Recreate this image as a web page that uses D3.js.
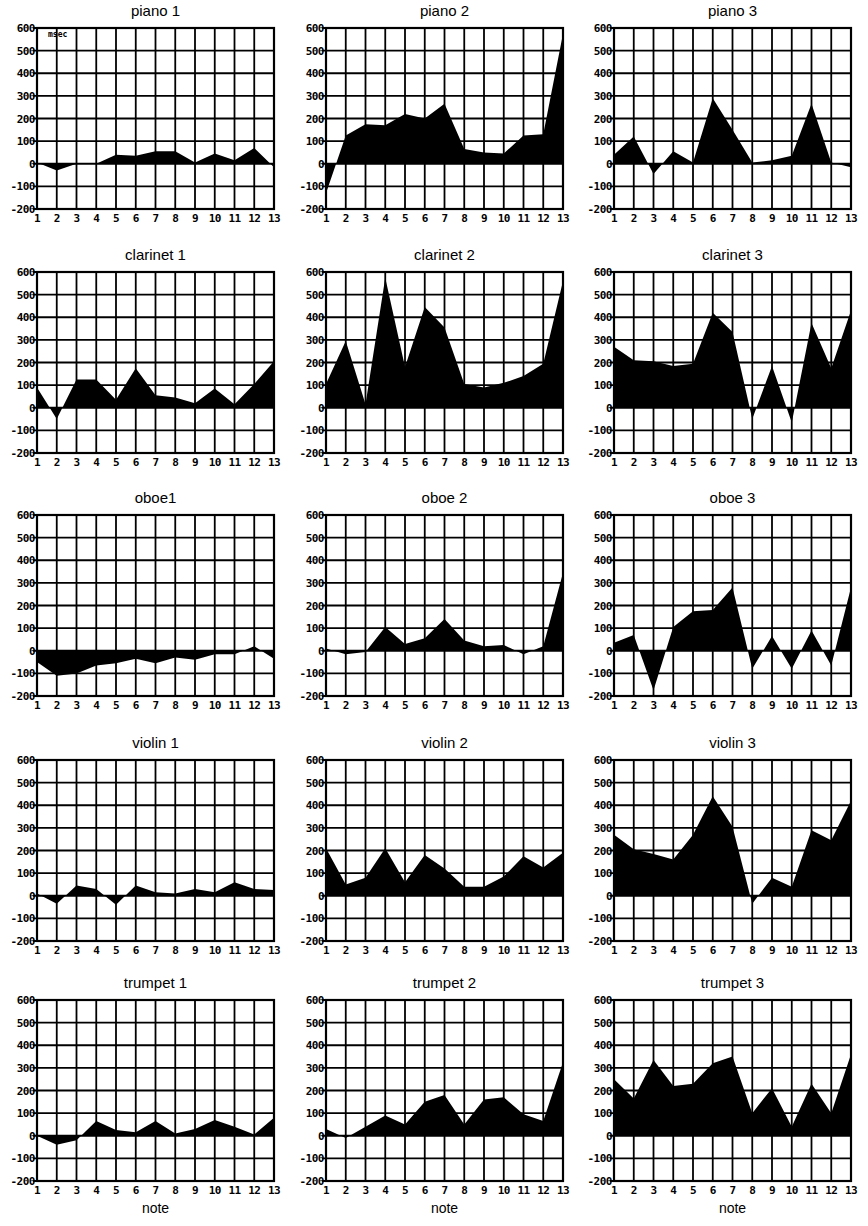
<!DOCTYPE html>
<html lang="en">
<head>
<meta charset="UTF-8">
<title>Note timing deviations</title>
<script src="https://d3js.org/d3.v7.min.js"></script>
<style>
  body { margin: 0; background: #fff; }
  svg { display: block; }
  .title { font-family: "Liberation Sans", Arial, sans-serif; font-size: 15px; }
  .tick { font-family: "DejaVu Sans Mono", monospace; font-weight: bold; font-size: 11px; }
</style>
</head>
<body>
<svg width="868" height="1226"></svg>
<script>
// note numbers and y tick values
const notes = [1, 2, 3, 4, 5, 6, 7, 8, 9, 10, 11, 12, 13];
const yTicks = [600, 500, 400, 300, 200, 100, 0, -100, -200];

// deviations in msec
const piano1   = [5, -30, 0, 0, 40, 35, 55, 55, 5, 45, 15, 70, -15];
const piano2   = [-130, 125, 175, 170, 220, 200, 265, 65, 50, 45, 125, 130, 575];
const piano3   = [40, 120, -45, 55, 5, 290, 150, 5, 15, 35, 265, 5, -15];
const clarinet1 = [90, -50, 125, 125, 35, 175, 55, 45, 20, 85, 15, 105, 205];
const clarinet2 = [105, 295, 15, 575, 180, 445, 355, 105, 90, 110, 140, 195, 560];
const clarinet3 = [270, 210, 205, 185, 195, 420, 335, -50, 185, -65, 375, 175, 430];
const oboe1    = [-50, -110, -100, -65, -55, -35, -55, -30, -40, -15, -15, 20, -35];
const oboe2    = [10, -15, -5, 105, 30, 55, 140, 45, 20, 25, -15, 20, 345];
const oboe3    = [35, 70, -175, 105, 175, 180, 280, -80, 65, -80, 90, -65, 280];
const violin1  = [10, -35, 45, 30, -40, 45, 15, 10, 30, 15, 60, 30, 25];
const violin2  = [210, 50, 80, 210, 60, 180, 120, 40, 40, 85, 175, 125, 190];
const violin3  = [270, 205, 185, 160, 270, 440, 305, -35, 80, 40, 290, 245, 420];
const trumpet1 = [0, -40, -20, 65, 25, 15, 65, 10, 30, 70, 40, 5, 80];
const trumpet2 = [30, -10, 40, 90, 50, 150, 180, 50, 160, 170, 95, 65, 325];
const trumpet3 = [250, 165, 335, 220, 230, 320, 350, 100, 210, 40, 230, 100, 360];

const titles = [
  "piano 1", "piano 2", "piano 3",
  "clarinet 1", "clarinet 2", "clarinet 3",
  "oboe1", "oboe 2", "oboe 3",
  "violin 1", "violin 2", "violin 3",
  "trumpet 1", "trumpet 2", "trumpet 3"
];
const series = [piano1, piano2, piano3, clarinet1, clarinet2, clarinet3,
                oboe1, oboe2, oboe3, violin1, violin2, violin3,
                trumpet1, trumpet2, trumpet3];

const svg = d3.select("svg");

const colLeft = [37, 326, 614];
const rowTop = [28, 272, 515, 760, 1000];
const w = 237, h = 181;

const x = d3.scaleLinear().domain([1, 13]).range([0, w]);
const y = d3.scaleLinear().domain([-200, 600]).range([h, 0]);

const area = d3.area()
  .x((d, i) => x(notes[i]))
  .y0(y(0))
  .y1(d => y(d));

series.forEach((vals, k) => {
  const col = k % 3, row = Math.floor(k / 3);
  const g = svg.append("g").attr("transform", `translate(${colLeft[col]},${rowTop[row]})`);

  g.append("text").attr("class", "title")
    .attr("x", w / 2).attr("y", -12)
    .attr("text-anchor", "middle")
    .text(titles[k]);

  // grid
  g.selectAll(".vg").data(notes).enter().append("line")
    .attr("x1", d => x(d)).attr("x2", d => x(d))
    .attr("y1", 0).attr("y2", h)
    .attr("stroke", "#000").attr("stroke-width", 1.8);
  g.selectAll(".hg").data(yTicks).enter().append("line")
    .attr("x1", -4).attr("x2", w)
    .attr("y1", d => y(d)).attr("y2", d => y(d))
    .attr("stroke", "#000").attr("stroke-width", 1.8);

  // filled deviation area
  g.append("path").datum(vals)
    .attr("d", area)
    .attr("fill", "#000");

  g.append("rect").attr("width", w).attr("height", h)
    .attr("fill", "none").attr("stroke", "#000").attr("stroke-width", 2.2);

  // y tick labels
  g.selectAll(".yl").data(yTicks).enter().append("text")
    .attr("class", "tick")
    .attr("x", -2).attr("y", d => y(d) + 4)
    .attr("text-anchor", "end")
    .style("letter-spacing", "-0.5px")
    .text(d => d);

  // x tick labels
  g.selectAll(".xl").data(notes).enter().append("text")
    .attr("class", "tick")
    .attr("x", d => x(d)).attr("y", h + 13)
    .attr("text-anchor", "middle")
    .style("letter-spacing", "-0.5px")
    .text(d => d);

  if (k === 0) {
    g.append("text").attr("class", "tick")
      .attr("x", 11).attr("y", 9)
      .style("font-size", "8px")
      .text("msec");
  }
  if (row === 4) {
    g.append("text").attr("class", "title")
      .attr("x", w / 2).attr("y", h + 32)
      .attr("text-anchor", "middle")
      .style("font-size", "14px")
      .text("note");
  }
});
</script>
</body>
</html>
